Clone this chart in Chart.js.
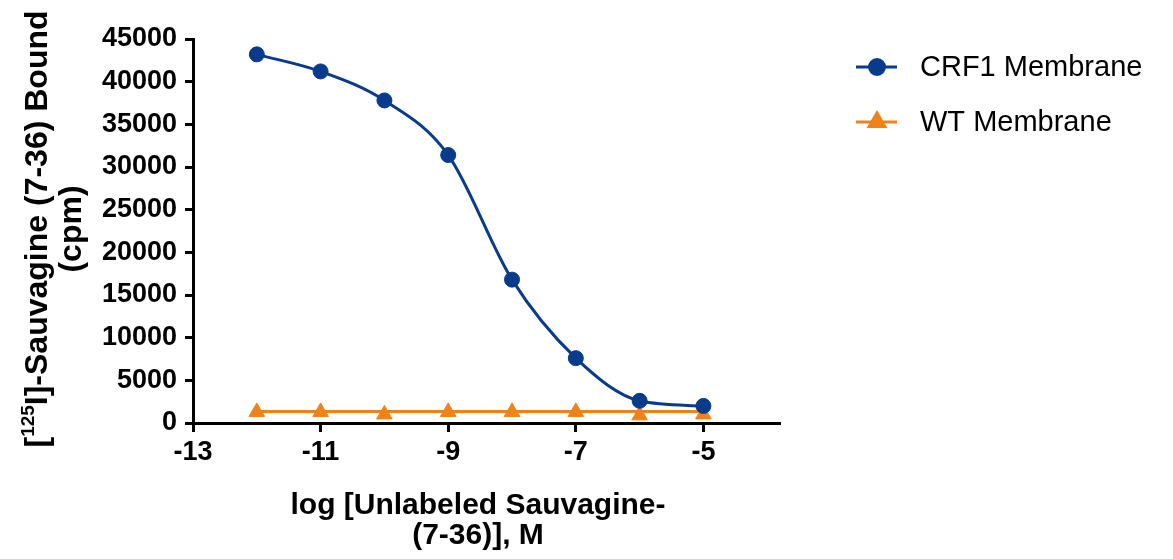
<!DOCTYPE html>
<html>
<head>
<meta charset="utf-8">
<script src="https://cdn.jsdelivr.net/npm/chart.js@4.4.1/dist/chart.umd.min.js"></script>
<style>
  html, body { margin: 0; padding: 0; background: #fff; }
  #wrap { width: 1173px; height: 559px; position: relative; }
</style>
</head>
<body>
<div id="wrap"><canvas id="myChart" width="1173" height="559"></canvas></div>
<script>
// log concentration (M)
var logConc = [-12, -11, -10, -9, -8, -7, -6, -5];
var crf1Bound = [43200, 41200, 37800, 31400, 16800, 7600, 2600, 2000];
var wtBound = [1300, 1300, 1000, 1300, 1300, 1300, 900, 1000];
// flat fit line for WT membrane
var wtFitX = [-12, -5];
var wtFitY = [1350, 1350];
var xTickValues = [-13, -11, -9, -7, -5];
var seriesNames = ["CRF1 Membrane", "WT Membrane"];

var blue = "#083b8c";
var orange = "#ef8218";
var fontFam = "'Liberation Sans', Arial, sans-serif";

function toPoints(xs, ys) {
  var pts = [];
  for (var i = 0; i < xs.length; i++) {
    pts.push({ x: xs[i], y: ys[i] });
  }
  return pts;
}

// legend with line + marker, drawn on the canvas
var legendPlugin = {
  id: "legendPlugin",
  afterDraw: function(chart) {
    var ctx = chart.ctx;
    var rows = [
      { y: 67, color: blue, style: "circle", r: 7.5 },
      { y: 122, color: orange, style: "triangle", r: 9 }
    ];
    ctx.save();
    for (var i = 0; i < rows.length; i++) {
      var row = rows[i];
      ctx.strokeStyle = row.color;
      ctx.lineWidth = 3;
      ctx.beginPath();
      ctx.moveTo(856, row.y);
      ctx.lineTo(897, row.y);
      ctx.stroke();
      Chart.helpers.drawPoint(ctx, {
        pointStyle: row.style, radius: row.r, borderWidth: 1,
        rotation: 0
      }, 877, row.y);
      ctx.fillStyle = row.color;
      ctx.fill();
      ctx.fillStyle = "#000";
      ctx.font = "29px " + fontFam;
      ctx.textBaseline = "middle";
      ctx.textAlign = "left";
      ctx.fillText(seriesNames[i], 920, row.y + 1);
    }
    ctx.restore();
  }
};

// axis titles (y title has a superscript)
var titlePlugin = {
  id: "titlePlugin",
  afterDraw: function(chart) {
    var ctx = chart.ctx;
    ctx.save();
    ctx.fillStyle = "#000";
    ctx.textBaseline = "alphabetic";

    // x title
    ctx.font = "bold 30px " + fontFam;
    ctx.textAlign = "center";
    ctx.fillText("log [Unlabeled Sauvagine-", 478, 514);
    ctx.fillText("(7-36)], M", 478, 544);

    // y title, rotated
    ctx.translate(0, 229);
    ctx.rotate(-Math.PI / 2);
    ctx.textAlign = "left";
    var mainFont = "bold 32px " + fontFam;
    var supFont = "bold 19px " + fontFam;
    var parts = [
      { t: "[", f: mainFont, dy: 0 },
      { t: "125", f: supFont, dy: -13 },
      { t: "I]-Sauvagine (7-36) Bound", f: mainFont, dy: 0 }
    ];
    var total = 0;
    for (var i = 0; i < parts.length; i++) {
      ctx.font = parts[i].f;
      parts[i].w = ctx.measureText(parts[i].t).width;
      total += parts[i].w;
    }
    var px = -total / 2;
    for (var j = 0; j < parts.length; j++) {
      ctx.font = parts[j].f;
      ctx.fillText(parts[j].t, px, 47 + parts[j].dy);
      px += parts[j].w;
    }
    ctx.font = mainFont;
    ctx.textAlign = "center";
    ctx.fillText("(cpm)", 0, 81);
    ctx.restore();
  }
};

var ctx = document.getElementById("myChart").getContext("2d");
var myChart = new Chart(ctx, {
  type: "scatter",
  data: {
    datasets: [
      {
        label: seriesNames[0],
        data: toPoints(logConc, crf1Bound),
        showLine: true,
        borderColor: blue,
        backgroundColor: blue,
        borderWidth: 3,
        pointRadius: 7.5,
        pointHoverRadius: 7.5,
        pointBorderWidth: 1,
        cubicInterpolationMode: "monotone"
      },
      {
        label: "WT fit",
        data: toPoints(wtFitX, wtFitY),
        showLine: true,
        borderColor: orange,
        borderWidth: 3,
        pointRadius: 0
      },
      {
        label: seriesNames[1],
        data: toPoints(logConc, wtBound),
        showLine: false,
        pointStyle: "triangle",
        borderColor: orange,
        backgroundColor: orange,
        pointRadius: 9,
        pointHoverRadius: 9,
        pointBorderWidth: 1
      }
    ]
  },
  options: {
    responsive: false,
    animation: false,
    layout: {
      padding: { left: 0, right: 393, top: 39, bottom: 0 }
    },
    plugins: {
      legend: { display: false },
      tooltip: { enabled: false }
    },
    scales: {
      x: {
        type: "linear",
        min: -13,
        max: -3.8,
        afterBuildTicks: function(scale) {
          scale.ticks = xTickValues.map(function(v) { return { value: v }; });
        },
        afterFit: function(scale) { scale.height = 136; },
        border: { display: true, color: "#000", width: 3 },
        grid: {
          drawOnChartArea: false,
          drawTicks: true,
          tickLength: 9,
          tickWidth: 3,
          tickColor: "#000",
          color: "#000"
        },
        ticks: {
          color: "#000",
          padding: 4,
          maxRotation: 0,
          callback: function(v) { return String(v); },
          font: { family: fontFam, size: 27, weight: "bold" }
        }
      },
      y: {
        min: 0,
        max: 45000,
        afterFit: function(scale) { scale.width = 193; },
        border: { display: true, color: "#000", width: 3 },
        grid: {
          drawOnChartArea: false,
          drawTicks: true,
          tickLength: 8,
          tickWidth: 3,
          tickColor: "#000",
          color: "#000"
        },
        ticks: {
          stepSize: 5000,
          color: "#000",
          padding: 8,
          callback: function(v) { return String(v); },
          font: { family: fontFam, size: 27, weight: "bold" }
        }
      }
    }
  },
  plugins: [legendPlugin, titlePlugin]
});
</script>
</body>
</html>
